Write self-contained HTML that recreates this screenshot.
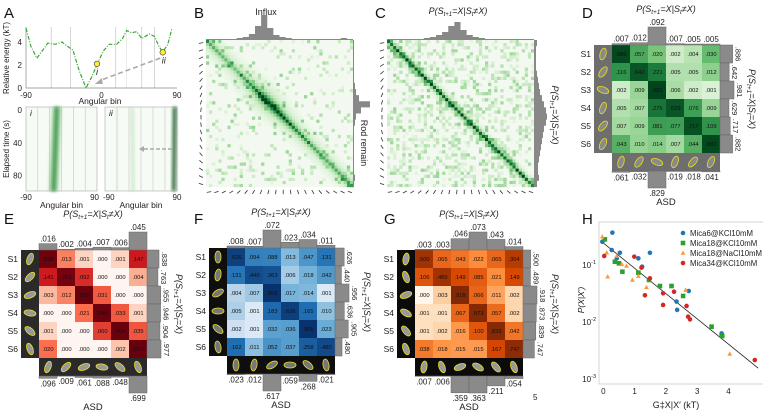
<!DOCTYPE html>
<html><head><meta charset="utf-8">
<style>
html,body{margin:0;padding:0;background:#fff;}
svg{display:block;font-family:"Liberation Sans",Arial,sans-serif;}
</style></head>
<body>
<svg id="fig" width="763" height="415" viewBox="0 0 763 415" xmlns="http://www.w3.org/2000/svg">
<defs>
<filter id="blur1" x="-50%" y="-10%" width="200%" height="120%"><feGaussianBlur stdDeviation="1.6"/></filter>
</defs>
<g font-size="15" fill="#111">
<text x="4" y="18">A</text>
<text x="194" y="18">B</text>
<text x="375" y="18">C</text>
<text x="582" y="18">D</text>
<text x="4" y="224">E</text>
<text x="194" y="224">F</text>
<text x="384" y="224">G</text>
<text x="582" y="224">H</text>
</g>
<text x="533" y="400" font-size="8" fill="#222">5</text>
<g id="root"></g>
</svg>
<script>
// ---------- Panel A data ----------
const energyAngles = [-90,-84,-77,-70,-64,-55,-47,-40,-34,-27,-18.5,-12,-5,2,9,18,25,30,36,42,48,57,63,68,73,79,84];
const energyValues = [5.2,3.6,2.6,3.3,3.9,3.8,4.0,3.6,3.3,1.6,0,0.9,2.1,3.2,3.8,3.8,4.3,5.0,4.8,4.9,4.3,4.7,4.5,3.7,3.1,3.8,5.2];
const energyTicks = [0,2,4];
const angleTicks = [-90,0,90];
const timeTicks = [0,40,80];
const markedStates = [{a:-5.4,e:2.1,label:"i"},{a:73,e:3.1,label:"ii"}];
// ---------- Matrices ----------
const matD = [[.886,.057,.020,.002,.004,.030],[.116,.642,.221,.005,.005,.012],[.002,.009,.981,.006,.002,.001],[.005,.007,.275,.629,.076,.009],[.007,.009,.081,.077,.717,.109],[.043,.010,.014,.007,.044,.882]];
const topD = [.007,.012,.092,.007,.005,.005];
const botD = [.061,.032,.829,.019,.018,.041];
const matE = [[.838,.013,.001,.000,.001,.147],[.141,.763,.092,.000,.000,.004],[.003,.012,.955,.031,.000,.000],[.000,.000,.021,.946,.033,.001],[.001,.000,.000,.060,.904,.035],[.020,.000,.000,.000,.002,.977]];
const topE = [.016,.002,.004,.007,.006,.045];
const botE = [.096,.009,.061,.088,.048,.699];
const matF = [[.626,.094,.088,.013,.047,.131],[.131,.440,.363,.006,.018,.042],[.004,.007,.956,.017,.014,.001],[.005,.001,.183,.636,.165,.010],[.002,.001,.032,.036,.905,.023],[.162,.011,.052,.037,.258,.480]];
const topF = [.008,.007,.072,.023,.034,.011];
const botF = [.023,.012,.617,.059,.268,.021];
const matG = [[.500,.065,.043,.022,.065,.304],[.106,.489,.149,.085,.021,.149],[.000,.003,.918,.066,.011,.002],[.001,.001,.067,.873,.057,.002],[.001,.002,.016,.100,.839,.042],[.038,.018,.015,.015,.167,.747]];
const topG = [.003,.003,.046,.073,.043,.014];
const botG = [.007,.006,.359,.363,.211,.054];
// ---------- Heatmap B/C data ----------
const diagB = [0.5,0.42,0.35,0.4,0.6,1.0,0.75,0.55,0.5,0.48,0.5,0.6];
const diagC = [0.85,0.85,0.9,0.85,0.9,0.9,0.85,0.9,0.85,0.85,0.8,0.75];
const histTopB = [1,1,1,1,1,2,3,6,14,25,12,5,3,2,1,1,1,1,1,1,1,1,2,1];
const histRightB = [1,1,1,1,1,1,1,2,3,6,17,8,3,2,1,1,1,1,1,1,1,1,2,1];
const histTopC = [1,1,1,1,1,1,2,3,5,8,14,18,10,5,3,2,1,1,1,1,1,1,1,1];
const histRightC = [3,2,2,2,2,3,4,5,6,8,10,12,13,12,10,9,8,7,6,5,4,4,5,3];
// ---------- Panel H data ----------
const blueX = [-0.03,.29,.27,.43,.53,1.12,1.24,1.49,2.34,2.36,2.73,3.78,3.78];
const blueY = [.256,.369,.183,.131,.164,.131,.0935,.164,.0228,.0163,.035,.0063,.0059];
const greenX = [.05,.37,.5,.61,1.12,1.46,1.81,2.18,2.55,3.46,3.8];
const greenY = [.282,.114,.107,.0763,.0733,.0546,.0428,.0428,.0286,.00828,.00568];
const orangeX = [-.03,.11,.14,.43,.59,.74,.93,1.12,1.38,2.63,4.04];
const orangeY = [.314,.164,.0624,.144,.103,.096,.0546,.064,.0406,.0364,.00275];
const redX = [.03,.99,1.22,1.49,1.33,1.91,1.91,2.26,2.66,2.71,2.77,4.84];
const redY = [.144,.14,.0898,.0583,.0294,.0199,.0319,.034,.0191,.0124,.0111,.00215];
const fitX = [-0.05,4.95];
const fitY = [0.256,0.00155];
const hXTicks = [0,1,2,3,4];
const hYTicks = [-1,-2,-3];
const legendLabels = ["Mica6@KCl10mM","Mica18@KCl10mM","Mica18@NaCl10mM","Mica34@KCl10mM"];

const NS="http://www.w3.org/2000/svg";
const root=document.getElementById('root');
function mk(tag,attrs,parent){const e=document.createElementNS(NS,tag);for(const k in attrs)e.setAttribute(k,attrs[k]);(parent||root).appendChild(e);return e;}
function txt(s,attrs,parent){const e=mk('text',attrs,parent);e.textContent=s;return e;}
function grp(parent){return mk('g',{},parent);}

// ===== Panel A =====
const gA=grp();


const ax0=26,ax1=177,ay0=88,eScale=11.5;
const xA=a=>ax0+(a+90)/180*(ax1-ax0);
const yA=e=>ay0-e*eScale;
[-60,-37,17,30,48,63].forEach(a=>{const l=mk('line',{x1:xA(a),x2:xA(a),y1:27,y2:ay0,stroke:a===30?'#ddd':'#bbb','stroke-width':0.6},gA);

});
const axA=mk('path',{d:`M${ax0},27V${ay0}H${ax1}`,fill:'none',stroke:'#888','stroke-width':0.7},gA);


energyTicks.forEach(t=>{const tt=txt(String(t),{x:ax0-4,y:yA(t)+3,'font-size':8,'text-anchor':'end',fill:'#222'},gA);

});
angleTicks.forEach(t=>{const tt=txt(String(t),{x:xA(t),y:98,'font-size':8,'text-anchor':'middle',fill:'#222'},gA);

});
const xl=txt('Angular bin',{x:100,y:104,'font-size':8.5,'text-anchor':'middle',fill:'#222'},gA);


const yl=txt('Relative energy (kT)',{x:0,y:0,'font-size':8,'text-anchor':'middle',fill:'#222',transform:'translate(9,58) rotate(-90)'},gA);


const ecurve=mk('path',{d:energyAngles.map((a,i)=>(i?'L':'M')+xA(a).toFixed(1)+','+yA(energyValues[i]).toFixed(1)).join(''),fill:'none',stroke:'#3aa635','stroke-width':1.2,'stroke-dasharray':'4 1.5 1 1.5'},gA);


const arr=mk('path',{d:`M${xA(70)},${yA(2.6)}L${xA(-2)},${yA(0.65)}`,stroke:'#aaa','stroke-width':1.6,'stroke-dasharray':'5 3',fill:'none'},gA);


const ah=mk('path',{d:`M${xA(-8)},${yA(0.35)}l7,-6l1,6z`,fill:'#aaa'},gA);


markedStates.forEach(s=>{const c=mk('circle',{cx:xA(s.a),cy:yA(s.e),r:2.8,fill:'#ffee33',stroke:'#333','stroke-width':0.6},gA);


const t=txt(s.label,{x:xA(s.a)-1,y:yA(s.e)+11,'font-size':9,'font-style':'italic',fill:'#222'},gA);

});
const tY=t=>110+t*0.82;
function traj(x0,x1,label,streaks,name,first){
 const g=grp(gA);
 
 
 mk('rect',{x:x0,y:107,width:x1-x0,height:84,fill:'#f7fbf5',stroke:'#999','stroke-width':0.5},g);
 const sx=a=>x0+(a+90)/180*(x1-x0);
 [-60,-30,0,30,60].forEach(a=>mk('line',{x1:sx(a),x2:sx(a),y1:107,y2:191,stroke:'#bbb','stroke-width':0.5},g));
 streaks.forEach(s=>{mk('path',{d:`M${sx(s.a0)-s.w},107L${sx(s.a0)+s.w},107L${sx(s.a1)+s.w},191L${sx(s.a1)-s.w},191z`,fill:s.c,opacity:s.o,filter:'url(#blur1)'},g);});
 txt(label,{x:x0+4,y:116,'font-size':8.5,'font-style':'italic',fill:'#222'},g);
 txt('-90',{x:first?x0:x0-2,y:200,'font-size':8,'text-anchor':first?'middle':'start',fill:'#222'},g);
 txt('90',{x:first?x1+2:x1,y:200,'font-size':8,'text-anchor':first?'end':'middle',fill:'#222'},g);
 txt('Angular bin',{x:(x0+x1)/2,y:208,'font-size':8.5,'text-anchor':'middle',fill:'#222'},g);
 return {g,sx};
}
traj(26,97,'i',[{a0:-12,a1:-20,w:2.5,c:'#1d7a30',o:0.9},{a0:-12,a1:-20,w:5,c:'#7cc47a',o:0.4}],'trajectory-i',true);
traj(105,177,'ii',[{a0:84,a1:82,w:1.6,c:'#0d4d1c',o:0.95},{a0:-22,a1:-20,w:1.5,c:'#9fd39b',o:0.5},{a0:-60,a1:-60,w:1,c:'#cde8c8',o:0.4}],'trajectory-ii',false);
const arr2=mk('path',{d:`M172,149H143`,stroke:'#aaa','stroke-width':1.4,'stroke-dasharray':'4 2'},gA);


mk('path',{d:'M139,149l5,-3v6z',fill:'#aaa'},gA);
timeTicks.forEach(t=>{const tt=txt(String(t),{x:22,y:tY(t)+3,'font-size':8,'text-anchor':'end',fill:'#222'},gA);

});
const tyl=txt('Elapsed time (s)',{x:0,y:0,'font-size':8,'text-anchor':'middle',fill:'#222',transform:'translate(9,149) rotate(-90)'},gA);



// ===== Colormaps =====
function interp(stops,t){t=Math.max(0,Math.min(1,t));const n=stops.length-1;const i=Math.min(n-1,Math.floor(t*n));const f=t*n-i;
 const a=stops[i],b=stops[i+1];const h=s=>[1,3,5].map(k=>parseInt(s.substr(k,2),16));const A=h(a),B=h(b);
 return 'rgb('+A.map((v,k)=>Math.round(v+(B[k]-v)*f)).join(',')+')';}
const greens=['#f7fcf5','#c7e9c0','#74c476','#238b45','#00441b'];
const reds=['#fff5f0','#fcbba1','#fb6a4a','#cb181d','#67000d'];
const blues=['#f7fbff','#c6dbef','#6baed6','#2171b5','#08306b'];
const oranges=['#fff5eb','#fdd0a2','#fd8d3c','#d94801','#7f2704'];
const tval=v=>(Math.log10(v+0.0005)+3.3)/3.3;

// ===== B / C heatmaps =====
function hash(i,j,s){let h=(i*73856093)^(j*19349663)^(s*83492791);h=(h^(h>>>13))*1274126177;h=h^(h>>>16);return ((h>>>0)%1000)/1000;}
function heat(x0,y0,size,diag,width,speck,seed,histTop,histRight,name){
 const g=grp();
 
 
 const N=48,cs=size/N;
 mk('rect',{x:x0,y:y0,width:size,height:size,fill:'#f3f9f1'},g);
 for(let i=0;i<N;i++)for(let j=0;j<N;j++){
  const d=Math.abs(i-j);const k=((i+j)/2)/N*(diag.length-1);const k0=Math.floor(k);const dv=diag[k0]+(diag[Math.min(diag.length-1,k0+1)]-diag[k0])*(k-k0);
  let v=dv*Math.exp(-d/width);
  if(name==='heatmap-b'){const cd=Math.hypot(i-18.5,j-18.5);v+=0.35*Math.exp(-cd/6)*Math.exp(-d/6)+0.12*Math.exp(-d/5);}
  const h=hash(i,j,seed);if(h>1-speck)v+=0.08+0.3*(h-(1-speck))/speck;
  if(v<0.05)continue;
  mk('rect',{x:(x0+j*cs).toFixed(2),y:(y0+i*cs).toFixed(2),width:cs+0.2,height:cs+0.2,fill:interp(greens,v)},g);
 }
 const bw=size/histTop.length;
 let p=`M${x0},${y0}`;histTop.forEach((h,i)=>{p+=`V${y0-h}H${x0+(i+1)*bw}`;});p+=`V${y0}z`;
 const ht=mk('path',{d:p,fill:'#888'},g);
 
 
 const bh=size/histRight.length;const xr=x0+size;
 let q=`M${xr},${y0}`;histRight.forEach((h,i)=>{q+=`H${xr+h}V${y0+(i+1)*bh}`;});q+=`H${xr}z`;
 const hr=mk('path',{d:q,fill:'#888'},g);
 
 
 for(let i=0;i<20;i++){const ang=-80+i*8;const cy=y0+3+i*(size-6)/19;const cx=x0+i*(size-6)/19+3;
  const r=(ang)*Math.PI/180;
  mk('line',{x1:x0-5-2.2*Math.sin(r),y1:cy-2.2*Math.cos(r),x2:x0-5+2.2*Math.sin(r),y2:cy+2.2*Math.cos(r),stroke:'#333','stroke-width':0.8},g);
  mk('line',{x1:cx-2.2*Math.sin(r),y1:y0+size+5-2.2*Math.cos(r),x2:cx+2.2*Math.sin(r),y2:y0+size+5+2.2*Math.cos(r),stroke:'#333','stroke-width':0.8},g);
 }
 return g;
}
const gB=heat(206,40,147,diagB,1.5,0.14,7,histTopB,histRightB,'heatmap-b');
const inf=txt('Influx',{x:266,y:15,'font-size':9,'text-anchor':'middle',fill:'#222'},gB);


const rr=txt('Rod remain',{x:0,y:0,'font-size':9,'text-anchor':'middle',fill:'#222',transform:'translate(361,143) rotate(90)'},gB);


const gC=heat(387,40,147,diagC,1.2,0.35,13,histTopC,histRightC,'heatmap-c');
const ct=txt('',{x:458,y:14,'font-size':9,'text-anchor':'middle','font-style':'italic',fill:'#222'},gC);
ct.innerHTML='P(S<tspan font-size="6" dy="2">t+1</tspan><tspan dy="-2">=X|S</tspan><tspan font-size="6" dy="2">t</tspan><tspan dy="-2">≠X)</tspan>';


const cr=txt('',{x:0,y:0,'font-size':9,'text-anchor':'middle','font-style':'italic',fill:'#222',transform:'translate(552,115) rotate(90)'},gC);
cr.innerHTML='P(S<tspan font-size="6" dy="2">t+1</tspan><tspan dy="-2">=X|S</tspan><tspan font-size="6" dy="2">t</tspan><tspan dy="-2">=X)</tspan>';



// ===== Matrix panels =====
const fmt=v=>'.'+String(Math.round(v*1000)).padStart(3,'0');
function matrix(name,mx,my,vals,top,bot,cmap,bg,rodFill,angles){
 const g=grp();
 
 
 const c=18;
 for(let i=0;i<6;i++){
  [[mx-c,my+i*c],[mx+i*c,my+6*c]].forEach(([x,y])=>{
   const im=mk('g',{},g);
   
   
   mk('rect',{x,y,width:c,height:c,fill:bg},im);
   mk('ellipse',{cx:x+c/2,cy:y+c/2,rx:3,ry:6,fill:rodFill,stroke:'#e8e020','stroke-width':0.8,transform:`rotate(${angles[i]} ${x+c/2} ${y+c/2})`},im);
  });
  const sl=txt('S'+(i+1),{x:mx-c-3,y:my+i*c+12,'font-size':8.5,'text-anchor':'end',fill:'#222'},g);
  
  
 }
 for(let r=0;r<6;r++)for(let k=0;k<6;k++){
  const v=vals[r][k];
  const cell=mk('rect',{x:mx+k*c,y:my+r*c,width:c,height:c,fill:interp(cmap,tval(v))},g);
  
  
  const t=txt(fmt(v),{x:mx+k*c+c/2,y:my+r*c+c/2+2,'font-size':5.8,'text-anchor':'middle',fill:'#111'},g);
  
  
 }
 const tm=Math.max(...top),bm=Math.max(...bot);
 top.forEach((v,k)=>{const h=v/tm*18;
  const b=mk('rect',{x:mx+k*c,y:my-h,width:c,height:h,fill:'#8a8a8a',stroke:'#666','stroke-width':0.5},g);
  
  
  const t=txt(fmt(v),{x:mx+k*c+c/2,y:my-h-2,'font-size':8,'text-anchor':'middle',fill:'#222'},g);
  
  });
 bot.forEach((v,k)=>{const h=v/bm*17;const y0=my+7*c;
  const b=mk('rect',{x:mx+k*c,y:y0,width:c,height:h,fill:'#8a8a8a',stroke:'#666','stroke-width':0.5},g);
  
  
  const t=txt(fmt(v),{x:mx+k*c+c/2,y:y0+h+8,'font-size':8,'text-anchor':'middle',fill:'#222'},g);
  
  });
 const diag=vals.map((r,i)=>r[i]);const dm=Math.max(...diag);
 diag.forEach((v,r)=>{const w=v/dm*14;
  const b=mk('rect',{x:mx+6*c,y:my+r*c,width:w,height:c,fill:'#8a8a8a',stroke:'#666','stroke-width':0.5},g);
  
  
  const t=txt(fmt(v),{x:0,y:0,'font-size':7.5,'text-anchor':'middle',fill:'#222',transform:`translate(${mx+6*c+w+3},${my+r*c+c/2}) rotate(90)`},g);
  
  });
 const tt=txt('',{x:mx+3*c,y:my-33,'font-size':9,'text-anchor':'middle','font-style':'italic',fill:'#222'},g);
 tt.innerHTML='P(S<tspan font-size="6.5" dy="2">t+1</tspan><tspan dy="-2">=X|S</tspan><tspan font-size="6.5" dy="2">t</tspan><tspan dy="-2">≠X)</tspan>';
 
 
 const rt=txt('',{x:0,y:0,'font-size':9,'text-anchor':'middle','font-style':'italic',fill:'#222',transform:`translate(${mx+6*c+29},${my+3*c}) rotate(90)`},g);
 rt.innerHTML='P(S<tspan font-size="6.5" dy="2">t+1</tspan><tspan dy="-2">=X|S</tspan><tspan font-size="6.5" dy="2">t</tspan><tspan dy="-2">=X)</tspan>';
 
 
 const asd=txt('ASD',{x:mx+3*c,y:my+160,'font-size':9.5,'text-anchor':'middle',fill:'#222'},g);
 
 
}
matrix('matrix-d',612,45,matD,topD,botD,greens,'#6e6e6e','#8a8a8a',[15,35,-70,20,40,25]);
matrix('matrix-e',39,250,matE,topE,botE,reds,'#2a2a2a','#999',[20,45,70,-80,-50,-20]);
matrix('matrix-f',227,248,matF,topF,botF,blues,'#0e0e0e','#777',[0,10,60,90,-50,-10]);
matrix('matrix-g',415,250,matG,topG,botG,oranges,'#0b0b0b','#999',[10,-20,70,-60,-40,-20]);

// ===== Panel H =====
const gH=grp();


const hx0=603.3,hpx=31.3,hy1=265,hpd=57;
const xH=v=>hx0+v*hpx;
const yH=v=>hy1-(Math.log10(v)+1)*hpd;
const fr=mk('rect',{x:599,y:222,width:170,height:162,fill:'none',stroke:'#bbb','stroke-width':0.6},gH);


hXTicks.forEach(t=>{const l=txt(String(t),{x:xH(t),y:394,'font-size':8,'text-anchor':'middle',fill:'#222'},gH);

});
hYTicks.forEach(t=>{const l=txt('',{x:596,y:hy1-(t+1)*hpd+3,'font-size':8,'text-anchor':'end',fill:'#222'},gH);
l.innerHTML='10<tspan font-size="5.5" dy="-4">'+t+'</tspan>';

});
const hxl=txt('G‡X|X′ (kT)',{x:676,y:408,'font-size':9,'text-anchor':'middle',fill:'#222'},gH);


const hyl=txt('P(X|X′)',{x:0,y:0,'font-size':8.5,'text-anchor':'middle','font-style':'italic',fill:'#222',transform:'translate(584,300) rotate(-90)'},gH);


const fit=mk('line',{x1:xH(fitX[0]),y1:yH(fitY[0]),x2:xH(fitX[1]),y2:yH(fitY[1]),stroke:'#222','stroke-width':0.8},gH);


function marker(kind,x,y,col,g){
 if(kind==='c')return mk('circle',{cx:x,cy:y,r:2.3,fill:col},g);
 if(kind==='s')return mk('rect',{x:x-2.3,y:y-2.3,width:4.6,height:4.6,fill:col},g);
 return mk('path',{d:`M${x},${y-2.6}L${x+2.4},${y+1.8}H${x-2.4}z`,fill:col},g);
}
const seriesH=[[blueX,blueY,'#1f77b4','c','series-mica6-kcl'],[greenX,greenY,'#2ca02c','s','series-mica18-kcl'],[orangeX,orangeY,'#ff9933','t','series-mica18-nacl'],[redX,redY,'#d62728','c','series-mica34-kcl']];
seriesH.forEach(([xs,ys,col,kind,nm])=>{const g=grp(gH);
 
 
 xs.forEach((x,i)=>{const m=marker(kind,xH(x),yH(ys[i]),col,g);
 
 });});
legendLabels.forEach((s,i)=>{const y=233+i*10;const g=grp(gH);
 
 
 marker(seriesH[i][3],683,y,seriesH[i][2],g);
 txt(s,{x:690,y:y+3,'font-size':7.8,fill:'#222'},g);});
</script>
</body></html>
